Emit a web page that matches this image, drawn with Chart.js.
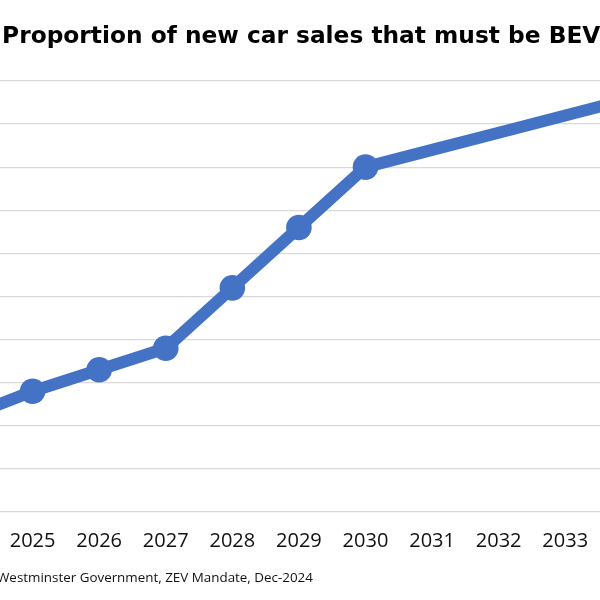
<!DOCTYPE html>
<html>
<head>
<meta charset="utf-8">
<script src="https://cdn.jsdelivr.net/npm/chart.js@4/dist/chart.umd.min.js"></script>
<style>
    html, body { margin: 0; padding: 0; background: #fff; }
    #frame { position: relative; width: 600px; height: 600px; overflow: hidden; }
    /* the chart is wider than the window and shifted left, so it shows cropped like the picture */
    #wrap { position: absolute; left: -96px; top: 0; width: 830px; height: 600px; }
</style>
</head>
<body>
<div id="frame"><div id="wrap"><canvas id="graph"></canvas></div></div>
<script>
var years = ['2024', '2025', '2026', '2027', '2028', '2029', '2030', '2031', '2032', '2033', '2034', '2035'];
var bevShare = [22, 28, 33, 38, 52, 66, 80, 84, 88, 92, 96, 100];
var lastMarkedYear = '2030';
var yMin = 0, yMax = 100, yStep = 10;
var titleText = 'Proportion of new car sales that must be BEV';
var sourceText = 'Source: Westminster Government, ZEV Mandate, Dec-2024';

var blue = '#4472C4';

var sourcePlugin = {
    id: 'sourceNote',
    afterDraw: function (chart) {
        var ctx = chart.ctx;
        ctx.save();
        ctx.font = '13.4px "Open Sans"';
        ctx.fillStyle = '#111';
        ctx.textBaseline = 'middle';
        var lead = ctx.measureText('Source: ').width;
        ctx.fillText(sourceText, 93 - lead, 578);
        ctx.restore();
    }
};

var context = document.querySelector('#graph').getContext('2d');
var lastMarked = years.indexOf(lastMarkedYear);

var myChart = new Chart(context, {
    type: 'line',
    data: {
        labels: years,
        datasets: [{
            label: 'BEV share',
            data: bevShare,
            borderColor: blue,
            backgroundColor: blue,
            pointBackgroundColor: blue,
            pointBorderWidth: 0,
            borderWidth: 12,
            borderJoinStyle: 'round',
            tension: 0,
            pointRadius: function (c) { return c.dataIndex <= lastMarked ? 12.8 : 0; }
        }]
    },
    options: {
        responsive: true,
        maintainAspectRatio: false,
        animation: false,
        layout: { padding: { right: 35.6, bottom: 38 } },
        plugins: {
            legend: { display: false },
            tooltip: { enabled: false },
            title: {
                display: true,
                text: titleText,
                color: '#000',
                font: { family: 'DejaVu Sans', size: 23.3, weight: 'bold' },
                padding: { top: 22.7, bottom: 30.3 }
            }
        },
        scales: {
            x: {
                offset: false,
                grid: { display: false },
                border: { display: false },
                ticks: {
                    color: '#111',
                    font: { family: 'Open Sans', size: 20 },
                    padding: 9,
                    maxRotation: 0,
                    autoSkip: false
                }
            },
            y: {
                min: yMin,
                max: yMax,
                border: { display: false },
                grid: { color: '#d9d9d9', lineWidth: 1.3, drawTicks: false },
                ticks: { display: false, stepSize: yStep },
                afterFit: function (scale) { scale.width = 62; }
            }
        }
    },
    plugins: [sourcePlugin]
});
</script>
</body>
</html>
